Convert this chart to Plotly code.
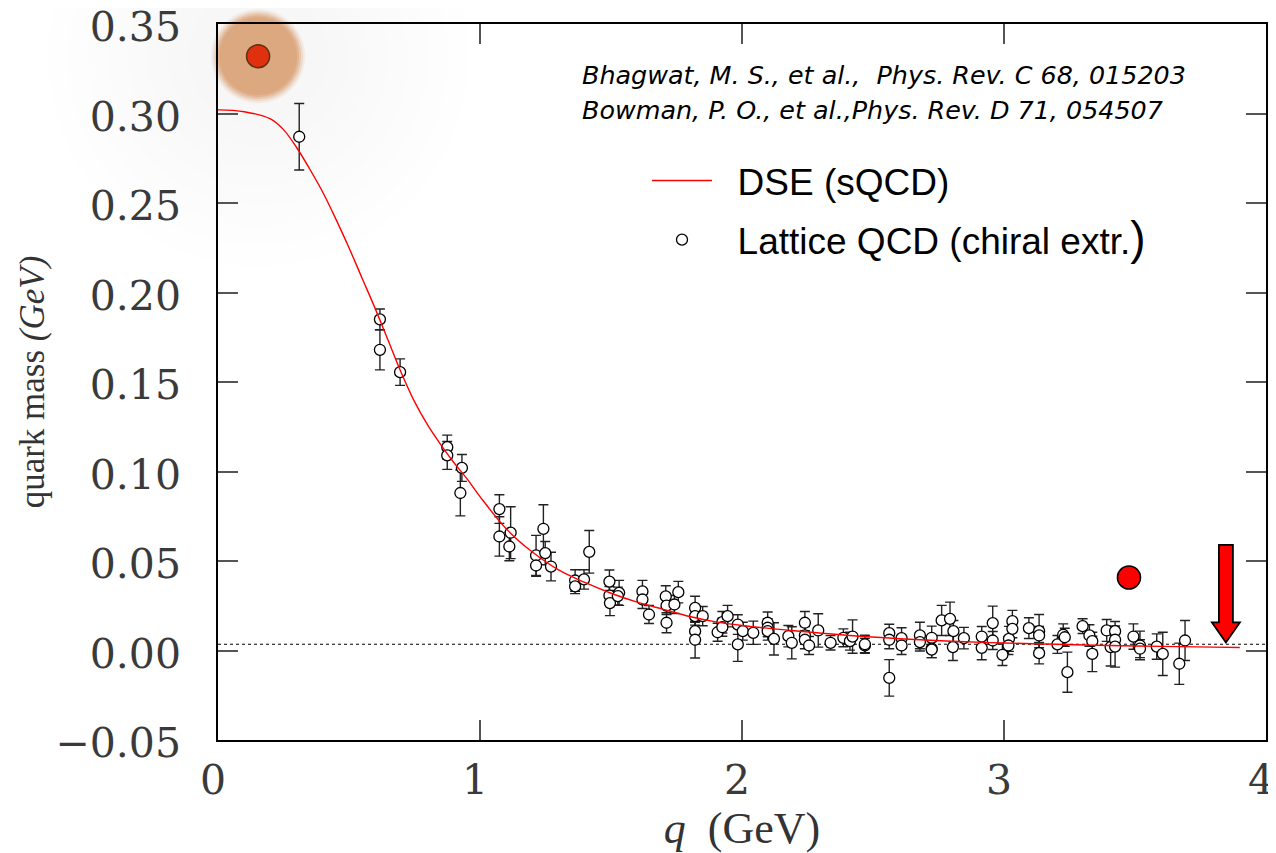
import plotly.graph_objects as go

# ---------------- data ----------------
Q_DSE = [0.0, 0.1, 0.2, 0.25, 0.3, 0.35, 0.4, 0.45, 0.5, 0.55, 0.6, 0.65, 0.7, 0.75,
         0.8, 0.85, 0.9, 0.95, 1.0, 1.1, 1.2, 1.3, 1.4, 1.5, 1.6, 1.7, 1.8, 1.9, 2.0,
         2.2, 2.4, 2.6, 2.8, 3.0, 3.2, 3.4, 3.6, 3.8, 3.9]
M_DSE = [0.302, 0.301, 0.297, 0.291, 0.281, 0.269, 0.256, 0.241, 0.225, 0.208, 0.191,
         0.173, 0.155, 0.139, 0.126, 0.115, 0.105, 0.096, 0.086, 0.068, 0.055, 0.045,
         0.038, 0.032, 0.027, 0.023, 0.019, 0.016, 0.014, 0.011, 0.0085, 0.0066,
         0.0052, 0.0042, 0.0035, 0.0028, 0.0023, 0.0019, 0.0017]

Q_LAT = [0.310, 0.618, 0.618, 0.695, 0.875, 0.875, 0.931, 0.925, 1.074, 1.074,
         1.117, 1.112, 1.242, 1.214, 1.214, 1.249, 1.271, 1.417, 1.363, 1.363,
         1.397, 1.494, 1.494, 1.496, 1.531, 1.526, 1.620, 1.620, 1.645, 1.709,
         1.712, 1.712, 1.742, 1.757, 1.821, 1.821, 1.821, 1.821, 1.850, 1.907,
         1.925, 1.925, 1.945, 1.984, 1.984, 2.003, 2.043, 2.098, 2.098, 2.098,
         2.122, 2.177, 2.190, 2.240, 2.240, 2.240, 2.256, 2.291, 2.338, 2.387,
         2.412, 2.422, 2.469, 2.469, 2.562, 2.562, 2.562, 2.609, 2.609, 2.679,
         2.679, 2.724, 2.724, 2.724, 2.762, 2.794, 2.807, 2.805, 2.847, 2.915,
         2.915, 2.957, 2.957, 2.994, 3.019, 3.032, 3.032, 3.017, 3.095, 3.134,
         3.134, 3.134, 3.204, 3.226, 3.232, 3.242, 3.300, 3.326, 3.337, 3.337,
         3.392, 3.407, 3.424, 3.424, 3.424, 3.494, 3.519, 3.519, 3.583, 3.606,
         3.669, 3.691]
M_LAT = [0.287, 0.185, 0.168, 0.1555, 0.1136, 0.109, 0.102, 0.088, 0.079, 0.0637,
         0.0658, 0.0581, 0.068, 0.0531, 0.0475, 0.0544, 0.0469, 0.0551, 0.0391, 0.0358,
         0.0397, 0.0385, 0.0307, 0.0265, 0.0322, 0.0304, 0.0330, 0.0285, 0.0201, 0.0302,
         0.0251, 0.0155, 0.0257, 0.0326, 0.0238, 0.0192, 0.0108, 0.0060, 0.0192, 0.0102,
         0.0158, 0.0130, 0.0192, 0.0145, 0.0034, 0.0108, 0.0099, 0.0155, 0.0127, 0.0108,
         0.0065, 0.0080, 0.0043, 0.0155, 0.0084, 0.0060, 0.0028, 0.0112, 0.0043, 0.0071,
         0.0052, 0.0078, 0.0028, 0.0035, 0.0097, 0.0060, -0.0153, 0.0069, 0.0028, 0.0084,
         0.0047, 0.0071, 0.0010, 0.0005, 0.0168, 0.0177, 0.0108, 0.0019, 0.0069, 0.0078,
         0.0015, 0.0153, 0.0056, -0.0024, 0.0065, 0.0164, 0.0121, 0.0028, 0.0125, 0.0108,
         0.0084, -0.0015, 0.0034, 0.0088, 0.0074, -0.0121, 0.0136, 0.0084, 0.0052, -0.0019,
         0.0112, 0.0019, 0.0108, 0.0060, 0.0022, 0.0078, 0.0028, 0.0010, 0.0022, -0.0019,
         -0.0074, 0.0056]
ERR_LAT = [0.0186, 0.0058, 0.0112, 0.0074, 0.0067, 0.0078, 0.0075, 0.0128, 0.0080, 0.0110,
           0.0145, 0.0080, 0.0134, 0.0112, 0.0060, 0.0065, 0.0080, 0.0119, 0.0060, 0.0040,
           0.0054, 0.0065, 0.0050, 0.0070, 0.0070, 0.0050, 0.0062, 0.0050, 0.0050, 0.0060,
           0.0050, 0.0056, 0.0050, 0.0060, 0.0065, 0.0050, 0.0050, 0.0102, 0.0054, 0.0050,
           0.0060, 0.0050, 0.0060, 0.0055, 0.0095, 0.0050, 0.0065, 0.0060, 0.0050, 0.0050,
           0.0090, 0.0060, 0.0090, 0.0063, 0.0050, 0.0050, 0.0050, 0.0093, 0.0040, 0.0050,
           0.0050, 0.0093, 0.0040, 0.0050, 0.0050, 0.0050, 0.0102, 0.0058, 0.0050, 0.0074,
           0.0050, 0.0065, 0.0050, 0.0045, 0.0084, 0.0093, 0.0060, 0.0075, 0.0060, 0.0056,
           0.0067, 0.0095, 0.0050, 0.0060, 0.0070, 0.0060, 0.0050, 0.0050, 0.0058, 0.0093,
           0.0050, 0.0060, 0.0050, 0.0061, 0.0050, 0.0112, 0.0041, 0.0060, 0.0050, 0.0099,
           0.0061, 0.0106, 0.0054, 0.0050, 0.0115, 0.0071, 0.0080, 0.0050, 0.0071, 0.0121,
           0.0115, 0.0112]

Y_TICKS = [-0.05, 0.0, 0.05, 0.10, 0.15, 0.20, 0.25, 0.30, 0.35]
X_TICKS = [0, 1, 2, 3, 4]
REF_LEVEL = 0.0035          # dotted reference line

# decorations (data coordinates)
GLOW_DOT = (0.153, 0.332)
RED_DOT = (3.477, 0.0408)
ARROW_X, ARROW_TOP, ARROW_TIP = 3.847, 0.059, 0.0045

CITATIONS = ["Bhagwat, M. S., et al.,  Phys. Rev. C 68, 015203",
             "Bowman, P. O., et al.,Phys. Rev. D 71, 054507"]

# ---------------- layout geometry ----------------
X_RANGE = [0, 4]
Y_RANGE = [-0.05, 0.35]
PAGE_OFF = 8                     # default body margin of the html page
FIG_W, FIG_H = 1268, 845
M_L, M_R, M_T, M_B = 210, 10, 16, 113
PLOT_W = FIG_W - M_L - M_R
PLOT_H = FIG_H - M_T - M_B
DX = (X_RANGE[1] - X_RANGE[0]) / PLOT_W   # data units per px
DY = (Y_RANGE[1] - Y_RANGE[0]) / PLOT_H


def px_x(px):
    """page pixel -> paper x"""
    return (px - PAGE_OFF - M_L) / PLOT_W


def px_y(py):
    """page pixel -> paper y"""
    return 1 - (py - PAGE_OFF - M_T) / PLOT_H


SERIF = "Liberation Serif"
TICK_SERIF = "DejaVu Serif"

fig = go.Figure()

# very faint halo around the top-left dot
for size in [420, 380, 340, 300, 260, 220, 180, 140]:
    fig.add_trace(go.Scatter(x=[GLOW_DOT[0]], y=[GLOW_DOT[1]], mode="markers",
                             marker=dict(size=size, color="rgba(205,215,205,0.022)",
                                         line=dict(width=0)),
                             showlegend=False, hoverinfo="skip", cliponaxis=False))
# tan glow
for size, op in [(94, 0.15), (90, 0.25), (86, 0.4), (82, 0.6), (78, 1.0)]:
    fig.add_trace(go.Scatter(x=[GLOW_DOT[0]], y=[GLOW_DOT[1]], mode="markers",
                             marker=dict(size=size, color="rgb(220,168,128)", opacity=op,
                                         line=dict(width=0)),
                             showlegend=False, hoverinfo="skip", cliponaxis=False))
fig.add_trace(go.Scatter(x=[GLOW_DOT[0]], y=[GLOW_DOT[1]], mode="markers",
                         marker=dict(size=23, color="#e0300e",
                                     line=dict(width=1.5, color="#5a3212")),
                         showlegend=False, hoverinfo="skip", cliponaxis=False))

# lattice data
fig.add_trace(go.Scatter(
    x=Q_LAT, y=M_LAT, mode="markers",
    name="&nbsp;&nbsp;Lattice QCD (chiral extr.<span style=\"font-size:46px\">)</span>",
    legendgroup="b", legendrank=2,
    marker=dict(symbol="circle", size=11, color="white", line=dict(width=1.3, color="black")),
    error_y=dict(type="data", array=ERR_LAT, visible=True, color="#222", thickness=1.4, width=5),
))

# DSE curve
fig.add_trace(go.Scatter(
    x=Q_DSE, y=M_DSE, mode="lines", name="&nbsp;&nbsp;DSE (sQCD)", legendgroup="a", legendrank=1,
    line=dict(color="#ff0000", width=1.4, shape="spline", smoothing=1.0),
))

# red dot on the right
fig.add_trace(go.Scatter(x=[RED_DOT[0]], y=[RED_DOT[1]], mode="markers",
                         marker=dict(size=23, color="#ff0000", line=dict(width=1.6, color="black")),
                         showlegend=False, hoverinfo="skip"))

# arrow shape (sizes in px converted to data units)
shaft_hw = 7 * DX
head_hw = 14 * DX
head_len = 20 * DY
ax0 = ARROW_X
path = (f"M {ax0 - shaft_hw},{ARROW_TOP} L {ax0 + shaft_hw},{ARROW_TOP} "
        f"L {ax0 + shaft_hw},{ARROW_TIP + head_len} L {ax0 + head_hw},{ARROW_TIP + head_len} "
        f"L {ax0},{ARROW_TIP} L {ax0 - head_hw},{ARROW_TIP + head_len} "
        f"L {ax0 - shaft_hw},{ARROW_TIP + head_len} Z")
fig.add_shape(type="path", path=path, xref="x", yref="y",
              fillcolor="#ff0000", line=dict(color="black", width=1.8), layer="above")

# dotted reference line
fig.add_shape(type="line", xref="paper", yref="y", x0=0, x1=1, y0=REF_LEVEL, y1=REF_LEVEL,
              line=dict(color="black", width=1, dash="dot"), layer="below")

# citations
for i, txt in enumerate(CITATIONS):
    fig.add_annotation(text=f"<i>{txt}</i>", xref="paper", yref="paper",
                       x=px_x(580), y=px_y(75 + 35 * i),
                       xanchor="left", yanchor="middle", showarrow=False,
                       font=dict(family="DejaVu Sans", size=25.4, color="black"))

axis_common = dict(showline=True, linecolor="black", linewidth=1.5, mirror="ticks",
                   ticks="inside", ticklen=20, tickwidth=1.5, tickcolor="#555",
                   showgrid=False, zeroline=False, ticklabeloverflow="allow",
                   automargin=False,
                   tickfont=dict(family=TICK_SERIF, size=41, color="#3a3a3a"))

fig.update_layout(
    width=FIG_W, height=FIG_H,
    margin=dict(l=M_L, r=M_R, t=M_T, b=M_B, autoexpand=False),
    paper_bgcolor="white", plot_bgcolor="white",
    xaxis=dict(range=X_RANGE, tickvals=X_TICKS, ticktext=[str(v) for v in X_TICKS],
               ticklabelstandoff=3, ticklabelshift=-5,
               title=dict(text="<i>q</i>  (GeV)", font=dict(family=SERIF, size=44, color="#333"),
                          standoff=9),
               **axis_common),
    yaxis=dict(range=Y_RANGE, tickvals=Y_TICKS, tickformat=".2f",
               ticklabelstandoff=27, ticklabelshift=3,
               title=dict(text="quark mass <i>(GeV)</i>", font=dict(family=SERIF, size=35, color="#333"),
                          standoff=0),
               **axis_common),
    legend=dict(x=px_x(647), y=px_y(150),
                xanchor="left", yanchor="top", bgcolor="rgba(0,0,0,0)",
                font=dict(family="Liberation Sans", size=37, color="black"),
                itemwidth=60, tracegroupgap=8),
    showlegend=True,
)

fig.write_html("out.html")
